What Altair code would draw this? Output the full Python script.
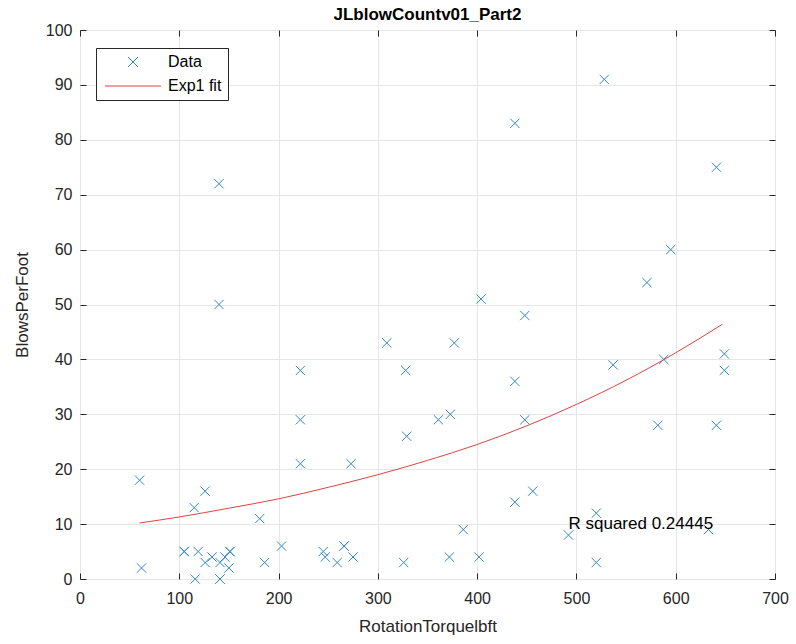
import altair as alt
import pandas as pd

# ---- data ----
torque = [60, 62, 105, 105, 116, 115, 119, 126, 126, 133,
          140, 140, 141, 141, 141, 146, 151, 151, 150, 181,
          186, 203, 222, 222, 222, 245, 247, 259, 266, 266,
          273, 275, 309, 326, 328, 329, 361, 372, 373, 377,
          386, 402, 404, 438, 438, 438, 448, 448, 456, 492,
          520, 520, 528, 537, 571, 582, 588, 595, 633, 641,
          641, 649, 649]
blows = [18, 2, 5, 5, 0, 13, 5, 16, 3, 4,
         72, 50, 3, 0, 0, 4, 5, 5, 2, 11,
         3, 6, 38, 29, 21, 5, 4, 3, 6, 6,
         21, 4, 43, 3, 38, 26, 29, 4, 30, 43,
         9, 4, 51, 83, 36, 14, 48, 29, 16, 8,
         12, 3, 91, 39, 54, 28, 40, 60, 9, 75,
         28, 41, 38]
fit_x = [60, 100, 150, 200, 250, 300, 350, 400, 450, 500, 550, 600, 647]
fit_y = [10.2, 11.3, 12.9, 14.6, 16.7, 19.0, 21.6, 24.5, 27.9, 31.8, 36.2, 41.2, 46.4]
series_names = ["Data", "Exp1 fit"]
note_x = [492]
note_y = [10]
note_text = ["R squared 0.24445"]
x_ticks = [0, 100, 200, 300, 400, 500, 600, 700]
y_ticks = [0, 10, 20, 30, 40, 50, 60, 70, 80, 90, 100]

# ---- styling ----
FONT = "Liberation Sans"
W, H = 695, 549
BLUE = "#3288c6"
RED = "#d9453f"
XPATH = "M-0.7,-0.7L0.7,0.7M0.7,-0.7L-0.7,0.7"
LPATH = "M-4,0L4,0"
AX = "#262626"

pts = pd.DataFrame({"x": torque, "y": blows, "series": series_names[0]})
fit = pd.DataFrame({"x": fit_x, "y": fit_y, "series": series_names[1]})
ann = pd.DataFrame({"x": note_x, "y": note_y, "label": note_text})

xscale = alt.Scale(domain=[0, 700], nice=False, zero=False)
yscale = alt.Scale(domain=[0, 100], nice=False, zero=False)

legend = alt.Legend(
    title=None, orient="none", legendX=16, legendY=18, padding=6,
    symbolOffset=23, labelOffset=27, symbolSize=196, symbolStrokeWidth=1,
    labelFontSize=16, labelFont=FONT, labelColor="#000000",
    strokeColor=AX, fillColor="white", rowPadding=8,
)
color = alt.Color("series:N", scale=alt.Scale(domain=series_names, range=[BLUE, RED]), legend=legend)
shape = alt.Shape("series:N", scale=alt.Scale(domain=series_names, range=[XPATH, LPATH]), legend=legend)

points = alt.Chart(pts).mark_point(filled=False, size=175, strokeWidth=1, opacity=1).encode(
    x=alt.X("x:Q", scale=xscale, axis=alt.Axis(
        orient="bottom", values=x_ticks, title="RotationTorquelbft", grid=True,
        ticks=False, tickSize=0, domain=False, labelPadding=11, titlePadding=12,
        labelFlush=False, labelOverlap=False)),
    y=alt.Y("y:Q", scale=yscale, axis=alt.Axis(
        orient="left", values=y_ticks, title="BlowsPerFoot", grid=True,
        ticks=False, tickSize=0, domain=False, labelPadding=8, titlePadding=14,
        labelFlush=False, labelOverlap=False)),
    color=color,
    shape=shape,
)

line = alt.Chart(fit).mark_line(strokeWidth=1, interpolate="monotone").encode(
    x=alt.X("x:Q", scale=xscale, axis=alt.Axis(
        orient="top", offset=-H, values=x_ticks, labels=False, ticks=True, tickSize=6,
        domain=False, grid=False, title=None)),
    y=alt.Y("y:Q", scale=yscale, axis=alt.Axis(
        orient="right", offset=-W, values=y_ticks, labels=False, ticks=True, tickSize=6,
        domain=False, grid=False, title=None)),
    color=color,
)

text = alt.Chart(ann).mark_text(align="left", baseline="middle", fontSize=17, font=FONT,
                                color="#000000").encode(
    x=alt.X("x:Q", scale=xscale, axis=alt.Axis(
        orient="bottom", offset=-H, values=x_ticks, labels=False, ticks=True, tickSize=6,
        domain=False, grid=False, title=None)),
    y=alt.Y("y:Q", scale=yscale, axis=alt.Axis(
        orient="left", offset=-W, values=y_ticks, labels=False, ticks=True, tickSize=6,
        domain=False, grid=False, title=None)),
    text="label:N",
)

chart = alt.layer(points, line, text).resolve_axis(
    x="independent", y="independent"
).properties(
    width=W, height=H,
    title=alt.TitleParams("JLblowCountv01_Part2", fontSize=17, fontWeight="bold", font=FONT,
                          color="#000000", offset=6, anchor="middle", dy=8),
    padding={"left": 80, "top": 30, "right": 21, "bottom": 65},
    autosize=alt.AutoSizeParams(type="none"),
).configure_view(
    stroke=AX, strokeWidth=1
).configure_axis(
    labelFont=FONT, titleFont=FONT, labelFontSize=16, titleFontSize=17,
    labelColor=AX, titleColor=AX, tickColor=AX, gridColor="#e6e6e6",
    titleFontWeight="normal", tickWidth=1,
)

chart.save("out.html", embed_options={"renderer": "svg", "actions": False})
